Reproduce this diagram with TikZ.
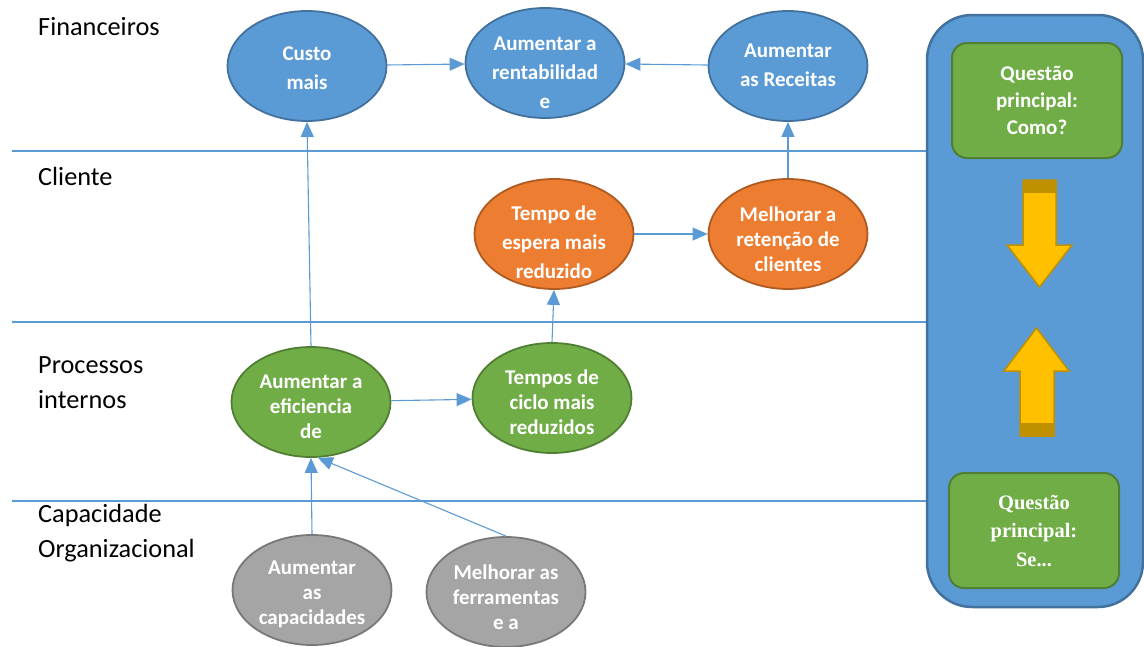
\documentclass[tikz,border=0pt]{standalone}
\usepackage{fontspec}
\setmainfont{Carlito}
\newfontfamily\timesf{Liberation Serif}
\usetikzlibrary{shapes.geometric,arrows.meta}
\definecolor{bl}{HTML}{5B9BD5}
\definecolor{blD}{HTML}{41719C}
\definecolor{org}{HTML}{ED7D31}
\definecolor{orgD}{HTML}{AE5A21}
\definecolor{grn}{HTML}{70AD47}
\definecolor{grnD}{HTML}{507E32}
\definecolor{gry}{HTML}{A5A5A5}
\definecolor{gryD}{HTML}{787878}
\definecolor{yel}{HTML}{FFC000}
\definecolor{yelD}{HTML}{BF9000}
\begin{document}
\begin{tikzpicture}[x=1pt,y=-1pt,
  ell/.style={ellipse, minimum width=159pt, minimum height=110pt, inner sep=0pt,
    line width=1.8pt},
  etxt/.style={text=white, align=center, inner sep=0pt,
    font=\fontsize{21}{25}\selectfont\bfseries},
  wtxt/.style={etxt, font=\fontsize{21}{28.8}\selectfont\bfseries},
  eblue/.style={ell, fill=bl, draw=blD},
  eorg/.style={ell, fill=org, draw=orgD},
  egrn/.style={ell, fill=grn, draw=grnD},
  egry/.style={ell, fill=gry, draw=gryD},
  conn/.style={draw=bl, line width=1.1pt, -{Triangle[length=15pt,width=13pt]}},
  sep/.style={draw=bl, line width=1.1pt},
  lbl/.style={anchor=base west, inner sep=0pt, font=\fontsize{26.3}{35}\selectfont, align=left},
  qbox/.style={rounded corners=15pt, fill=grn, draw=grnD, line width=2pt, text=white,
    align=center, inner sep=0pt},
  arr/.style={fill=yel, draw=yelD, line width=1.5pt, line join=miter}
]
\useasboundingbox (0,0) rectangle (1144,646);

% separator lines
\coordinate (l1a) at (12,151); \coordinate (l1b) at (930,151);
\coordinate (l2a) at (12,322); \coordinate (l2b) at (930,322);
\coordinate (l3a) at (12,501); \coordinate (l3b) at (930,501);
\draw[sep] (l1a) -- (l1b);
\draw[sep] (l2a) -- (l2b);
\draw[sep] (l3a) -- (l3b);

% row labels
\node[lbl] (tfin) at (38,35) {Financeiros};
\node[lbl] (tcli) at (38,185) {Cliente};
\node[lbl] (tpro) at (38,408) {Processos\\internos};
\node[lbl] (tcap) at (38,557) {Capacidade\\Organizacional};

% ellipses
\node[eblue, label={[wtxt,yshift=-2.5pt]center:{Custo\\mais}}] (custo) at (307,66) {};
\node[eblue, label={[wtxt,yshift=-9.5pt]center:{Aumentar a\\rentabilidad\\e}}] (rent) at (545,63) {};
\node[eblue, label={[wtxt,yshift=0.5pt]center:{Aumentar\\as Receitas}}] (rec) at (788,66) {};
\node[eorg, label={[wtxt,yshift=-8pt]center:{Tempo de\\espera mais\\reduzido}}] (esp) at (554,234) {};
\node[eorg, label={[etxt,yshift=-5pt]center:{Melhorar a\\retenção de\\clientes}}] (ret) at (788,234) {};
\node[egrn, label={[etxt,yshift=-4.5pt]center:{Aumentar a\\eficiencia\\de}}] (efi) at (311,402) {};
\node[egrn, label={[etxt,yshift=-4pt]center:{Tempos de\\ciclo mais\\reduzidos}}] (cic) at (552,398) {};
\node[egry, label={[etxt,yshift=-4pt]center:{Aumentar\\as\\capacidades}}] (cap) at (312,590) {};
\node[egry, label={[etxt,yshift=-5.5pt]center:{Melhorar as\\ferramentas\\e a}}] (fer) at (506,592) {};

% connectors
\draw[conn] (custo) -- (rent);
\draw[conn] (rec) -- (rent);
\draw[conn] (ret.north) -- (rec.south);
\draw[conn] (esp) -- (ret);
\draw[conn] (cic.north) -- (esp.south);
\draw[conn] (efi.north) -- (custo.south);
\draw[conn] (efi) -- (cic);
\draw[conn] (cap.north) -- (efi.south);
\draw[conn] (fer.north) -- (efi.-83);

% right panel
\node[fill=bl, draw=blD, line width=2.5pt, rounded corners=45pt, minimum width=216pt,
  minimum height=592pt, inner sep=0pt] (panel) at (1035,311) {};
\node[qbox, minimum width=170pt, minimum height=115pt,
  font=\fontsize{21}{27}\selectfont\bfseries] (q1) at (1037,100.5) {Questão\\principal:\\Como?};
\node[qbox, minimum width=170pt, minimum height=115pt,
  font=\timesf\fontsize{20.5}{28.5}\selectfont\bfseries] (q2) at (1034,530.5) {Questão\\principal:\\Se...};

% down arrow
\draw[arr] (1023,180) -- (1056,180) -- (1056,245) -- (1072,245) -- (1039.5,287)
  -- (1007,245) -- (1023,245) -- cycle;
\fill[yelD] (1023,180) rectangle (1056,193);
% up arrow
\draw[arr] (1020,436) -- (1054,436) -- (1054,371) -- (1069,371) -- (1036.5,328)
  -- (1004,371) -- (1020,371) -- cycle;
\fill[yelD] (1020,423) rectangle (1054,436);
\end{tikzpicture}
\end{document}
